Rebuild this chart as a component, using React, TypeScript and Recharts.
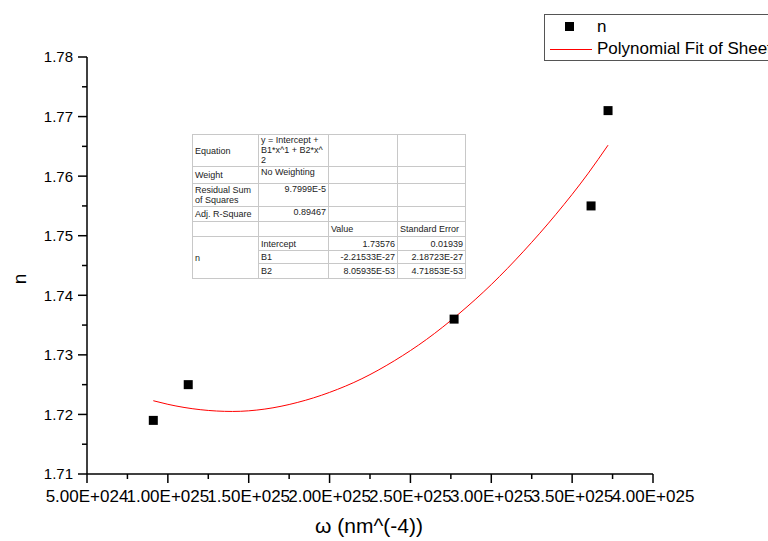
import React from "react"
import { ComposedChart, Scatter, Line, XAxis, YAxis } from "recharts"

// measured points
const omega = [9.1e24, 1.126e25, 2.77e25, 3.617e25, 3.722e25]
const nValues = [1.719, 1.725, 1.736, 1.755, 1.771]

// fitted curve
const fitOmega = [9.1e24, 1.0e25, 1.2e25, 1.4e25, 1.6e25, 1.8e25, 2.0e25, 2.2e25, 2.4e25, 2.6e25, 2.8e25, 3.0e25, 3.2e25, 3.4e25, 3.6e25, 3.722e25]
const fitN = [1.7223, 1.7217, 1.7208, 1.7205, 1.7209, 1.722, 1.7237, 1.726, 1.729, 1.7326, 1.7369, 1.7418, 1.7474, 1.7536, 1.7605, 1.7652]

const xTicks = [5e24, 1e25, 1.5e25, 2e25, 2.5e25, 3e25, 3.5e25, 4e25]
const xMinorTicks = [7.5e24, 1.25e25, 1.75e25, 2.25e25, 2.75e25, 3.25e25, 3.75e25]
const yTicks = [1.71, 1.72, 1.73, 1.74, 1.75, 1.76, 1.77, 1.78]
const yMinorTicks = [1.715, 1.725, 1.735, 1.745, 1.755, 1.765, 1.775]

const points = omega.map((x, i) => ({ x, y: nValues[i] }))
const fit = fitOmega.map((x, i) => ({ x, y: fitN[i] }))

const font = "'Liberation Sans', Arial, sans-serif"
const MAJOR = 9
const MINOR = 5
const GAP = 5

function sci(v: number) {
  const exp = Math.floor(Math.log10(v))
  const mant = v / Math.pow(10, exp)
  return `${mant.toFixed(2)}E+${String(exp).padStart(3, "0")}`
}

const Square = (props: any) => {
  const { cx, cy } = props
  return <rect x={cx - 4.5} y={cy - 4.5} width={9} height={9} fill="#000" />
}

// x ticks: tick line drawn here so minor ticks can be shorter
const XTick = (props: any) => {
  const { x, y, payload } = props
  const major = xTicks.includes(payload.value)
  const axisY = y - MAJOR - GAP
  return (
    <g>
      <line x1={x} x2={x} y1={axisY} y2={axisY + (major ? MAJOR : MINOR)} stroke="#000" strokeWidth={1.5} />
      {major && (
        <text x={x} y={y} dy="0.8em" textAnchor="middle" fill="#000" fontSize={17} fontFamily={font}>
          {sci(payload.value)}
        </text>
      )}
    </g>
  )
}

const YTick = (props: any) => {
  const { x, y, payload } = props
  const major = yTicks.includes(payload.value)
  const axisX = x + MAJOR + GAP
  return (
    <g>
      <line x1={axisX} x2={axisX - (major ? MAJOR : MINOR)} y1={y} y2={y} stroke="#000" strokeWidth={1.5} />
      {major && (
        <text x={x} y={y} dy="0.36em" textAnchor="end" fill="#000" fontSize={15} fontFamily={font}>
          {payload.value.toFixed(2)}
        </text>
      )}
    </g>
  )
}

const axisStyle = { stroke: "#000", strokeWidth: 1.5 }

const cell: React.CSSProperties = { border: "1px solid #c8c8c8", padding: "0 2px", verticalAlign: "top" }
const num: React.CSSProperties = { ...cell, textAlign: "right" }
const mid: React.CSSProperties = { ...cell, verticalAlign: "middle" }
const numMid: React.CSSProperties = { ...num, verticalAlign: "middle" }

function FitTable() {
  return (
    <table
      style={{
        position: "absolute",
        left: 192,
        top: 134,
        width: 273,
        height: 144,
        borderCollapse: "collapse",
        border: "1px solid #808080",
        background: "#fff",
        fontFamily: font,
        fontSize: 9,
        lineHeight: "10px",
        color: "#222",
        tableLayout: "fixed",
      }}
    >
      <colgroup>
        <col style={{ width: 66 }} />
        <col style={{ width: 70 }} />
        <col style={{ width: 69 }} />
        <col style={{ width: 68 }} />
      </colgroup>
      <tbody>
        <tr style={{ height: 32 }}>
          <td style={mid}>Equation</td>
          <td style={cell}>y = Intercept +<br />B1*x^1 + B2*x^<br />2</td>
          <td style={cell}></td>
          <td style={cell}></td>
        </tr>
        <tr style={{ height: 17 }}>
          <td style={mid}>Weight</td>
          <td style={cell}>No Weighting</td>
          <td style={cell}></td>
          <td style={cell}></td>
        </tr>
        <tr style={{ height: 23 }}>
          <td style={mid}>Residual Sum<br />of Squares</td>
          <td style={num}>9.7999E-5</td>
          <td style={cell}></td>
          <td style={cell}></td>
        </tr>
        <tr style={{ height: 15 }}>
          <td style={mid}>Adj. R-Square</td>
          <td style={num}>0.89467</td>
          <td style={cell}></td>
          <td style={cell}></td>
        </tr>
        <tr style={{ height: 15 }}>
          <td style={cell}></td>
          <td style={cell}></td>
          <td style={mid}>Value</td>
          <td style={mid}>Standard Error</td>
        </tr>
        <tr style={{ height: 14 }}>
          <td style={mid} rowSpan={3}>n</td>
          <td style={mid}>Intercept</td>
          <td style={numMid}>1.73576</td>
          <td style={numMid}>0.01939</td>
        </tr>
        <tr style={{ height: 13 }}>
          <td style={mid}>B1</td>
          <td style={numMid}>-2.21533E-27</td>
          <td style={numMid}>2.18723E-27</td>
        </tr>
        <tr style={{ height: 15 }}>
          <td style={mid}>B2</td>
          <td style={numMid}>8.05935E-53</td>
          <td style={numMid}>4.71853E-53</td>
        </tr>
      </tbody>
    </table>
  )
}

export default function App() {
  return (
    <div
      style={{
        position: "fixed",
        left: 0,
        top: 0,
        width: 768,
        height: 541,
        overflow: "hidden",
        background: "#fff",
        fontFamily: font,
      }}
    >
      <ComposedChart width={768} height={541} margin={{ top: 57, right: 115, bottom: 37, left: 27 }}>
        <XAxis
          type="number"
          dataKey="x"
          domain={[5e24, 4e25]}
          ticks={[...xTicks, ...xMinorTicks].sort((a, b) => a - b)}
          height={30}
          axisLine={axisStyle}
          tickLine={false}
          tickSize={MAJOR}
          tickMargin={GAP}
          tick={<XTick />}
          interval={0}
          allowDataOverflow
        />
        <YAxis
          type="number"
          dataKey="y"
          domain={[1.71, 1.78]}
          ticks={[...yTicks, ...yMinorTicks].sort((a, b) => a - b)}
          width={60}
          axisLine={axisStyle}
          tickLine={false}
          tickSize={MAJOR}
          tickMargin={GAP}
          tick={<YTick />}
          interval={0}
          allowDataOverflow
        />
        <Line
          data={fit}
          dataKey="y"
          type="monotone"
          stroke="#ff0000"
          strokeWidth={1}
          dot={false}
          activeDot={false}
          isAnimationActive={false}
        />
        <Scatter data={points} shape={Square} isAnimationActive={false} />
      </ComposedChart>

      <FitTable />

      <div
        style={{
          position: "absolute",
          left: 315,
          top: 514,
          fontSize: 21,
          color: "#000",
          whiteSpace: "nowrap",
        }}
      >
        ω (nm^(-4))
      </div>
      <div
        style={{
          position: "absolute",
          left: 20,
          top: 279,
          fontSize: 19,
          color: "#000",
          transform: "translate(-50%, -50%) rotate(-90deg)",
        }}
      >
        n
      </div>

      <div
        style={{
          position: "absolute",
          left: 544,
          top: 14,
          width: 280,
          height: 45,
          border: "1px solid #555",
          background: "#fff",
          fontSize: 17,
          color: "#000",
          whiteSpace: "nowrap",
        }}
      >
        <div style={{ position: "absolute", left: 20, top: 7, width: 9, height: 9, background: "#000" }} />
        <div style={{ position: "absolute", left: 52, top: 2, lineHeight: "20px" }}>n</div>
        <div style={{ position: "absolute", left: 5, top: 34, width: 42, height: 1, background: "#ff0000" }} />
        <div style={{ position: "absolute", left: 52, top: 24, lineHeight: "20px" }}>Polynomial Fit of Sheet1 n</div>
      </div>
    </div>
  )
}
